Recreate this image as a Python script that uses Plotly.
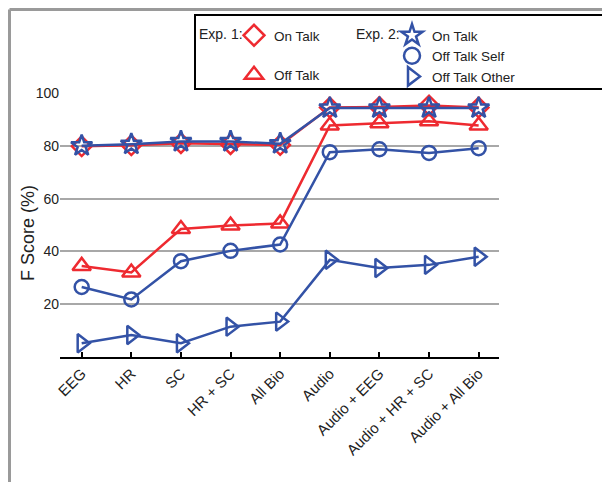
import plotly.graph_objects as go

categories = ["EEG", "HR", "SC", "HR + SC", "All Bio", "Audio",
              "Audio + EEG", "Audio + HR + SC", "Audio + All Bio"]

exp1_on_talk = [79.8, 80.2, 81.0, 80.6, 80.3, 94.5, 94.7, 95.3, 94.5]
exp1_off_talk = [34.5, 32.0, 48.5, 49.8, 50.6, 87.7, 88.5, 89.3, 87.7]
exp2_on_talk = [80.0, 80.6, 81.6, 81.6, 80.8, 94.3, 94.3, 94.3, 94.3]
exp2_off_talk_self = [26.5, 21.8, 36.3, 40.2, 42.6, 77.6, 78.7, 77.3, 79.1]
exp2_off_talk_other = [5.2, 8.3, 5.2, 11.5, 13.4, 36.8, 33.7, 34.9, 38.0]

yticks = [20, 40, 60, 80, 100]

RED = "#EE2A30"
BLUE = "#3352A6"
FONT = "Liberation Sans, Arial, sans-serif"
TXT = "#222222"

x = list(range(len(categories)))

# the page body adds an 8px margin, so the figure is drawn 8px smaller
OFF = 8
W, H = 610 - OFF, 482 - OFF
# plot-area geometry in screen pixels
L, R, T, B = 60, 499, 93, 357
PW, PH = R - L, B - T
def px(v):
    return (v - L) / PW
def py(v):
    return (B - v) / PH

fig = go.Figure()

series = [
    (exp1_on_talk, RED, "diamond-open", 15),
    (exp1_off_talk, RED, "triangle-up-open", 16),
    (exp2_off_talk_self, BLUE, "circle-open", 14),
    (exp2_off_talk_other, BLUE, "triangle-right-open", 16),
    (exp2_on_talk, BLUE, "star-open", 16),
]
for vals, col, sym, size in series:
    fig.add_trace(go.Scatter(
        x=x, y=vals, mode="lines+markers", showlegend=False,
        line=dict(color=col, width=2.5),
        marker=dict(symbol=sym, size=size, color=col, line=dict(color=col, width=2.5)),
    ))

# legend-only entries (no data drawn)
legend_items = [
    ("On Talk", RED, "diamond-open", "legend", "g1"),
    ("Off Talk", RED, "triangle-up-open", "legend", "g2"),
    ("On Talk", BLUE, "star-open", "legend2", "h1"),
    ("Off Talk Self", BLUE, "circle-open", "legend2", "h1"),
    ("Off Talk Other", BLUE, "triangle-right-open", "legend2", "h1"),
]
for name, col, sym, leg, grp in legend_items:
    fig.add_trace(go.Scatter(
        x=[None], y=[None], mode="markers", name=name, legend=leg, legendgroup=grp,
        marker=dict(symbol=sym, size=17, color=col, line=dict(color=col, width=2.5)),
    ))

fig.update_layout(
    width=W, height=H,
    margin=dict(l=L - OFF, r=W - (R - OFF), t=T - OFF, b=H - (B - OFF), autoexpand=False),
    paper_bgcolor="white", plot_bgcolor="white",
    font=dict(family=FONT, size=14, color=TXT),
    legend=dict(
        x=px(234), y=py(20), xanchor="left", yanchor="top",
        traceorder="grouped", tracegroupgap=19,
        bgcolor="rgba(0,0,0,0)", font=dict(family=FONT, size=13.5),
        itemsizing="trace",
    ),
    legend2=dict(
        x=px(392), y=py(20), xanchor="left", yanchor="top",
        bgcolor="rgba(0,0,0,0)", font=dict(family=FONT, size=13.5),
        tracegroupgap=0, itemsizing="trace",
    ),
    xaxis=dict(
        range=[-0.437, 8.41], tickvals=x, ticktext=categories, tickangle=-45,
        showline=True, linecolor="black", linewidth=2,
        ticks="inside", ticklen=5, tickwidth=1.5, tickcolor="black",
        showgrid=False, zeroline=False, tickfont=dict(family=FONT, size=15),
    ),
    yaxis=dict(
        range=[0, 100], tickvals=yticks, showgrid=True, gridcolor="#A8A8A8",
        gridwidth=1.5, zeroline=False, showline=False, ticks="",
        tickfont=dict(family=FONT, size=14),
    ),
    annotations=[
        dict(text="F Score (%)", xref="paper", yref="paper", x=px(28), y=py(233),
             xanchor="center", yanchor="middle", showarrow=False, textangle=-90,
             font=dict(family=FONT, size=18)),
        dict(text="Exp. 1:", xref="paper", yref="paper", x=px(197), y=py(34),
             xanchor="left", yanchor="middle", showarrow=False,
             font=dict(family=FONT, size=14)),
        dict(text="Exp. 2:", xref="paper", yref="paper", x=px(354), y=py(34),
             xanchor="left", yanchor="middle", showarrow=False,
             font=dict(family=FONT, size=14)),
    ],
    shapes=[
        dict(type="rect", xref="paper", yref="paper",
             x0=px(195), x1=px(606), y0=py(89), y1=py(15),
             line=dict(color="black", width=2), fillcolor="rgba(0,0,0,0)"),
        dict(type="line", xref="paper", yref="paper",
             x0=px(9.5), x1=px(620), y0=py(9.5), y1=py(9.5),
             line=dict(color="#9A9A9A", width=3)),
        dict(type="line", xref="paper", yref="paper",
             x0=px(9.5), x1=px(9.5), y0=py(9.5), y1=py(490),
             line=dict(color="#9A9A9A", width=3)),
    ],
)

fig.write_html("out.html")
